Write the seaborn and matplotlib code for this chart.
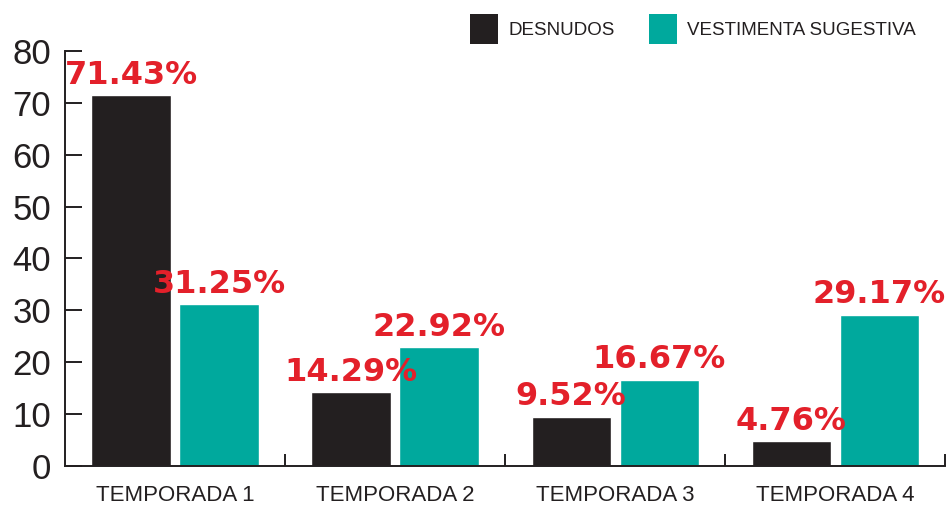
import pandas as pd
import matplotlib.pyplot as plt
import seaborn as sns
from matplotlib.ticker import FixedLocator
from matplotlib.patches import Patch

# Chart values
temporadas = ['TEMPORADA 1', 'TEMPORADA 2', 'TEMPORADA 3', 'TEMPORADA 4']
series = ['DESNUDOS', 'VESTIMENTA SUGESTIVA']
desnudos = [71.43, 14.29, 9.52, 4.76]
vestimenta = [31.25, 22.92, 16.67, 29.17]
y_ticks = [0, 10, 20, 30, 40, 50, 60, 70, 80]

df = pd.DataFrame({
    'Temporada': temporadas * 2,
    'Serie': [series[0]] * 4 + [series[1]] * 4,
    'Valor': desnudos + vestimenta,
})

colors = {'DESNUDOS': '#231f20', 'VESTIMENTA SUGESTIVA': '#00a99d'}
red = '#e3202a'
txt = '#231f20'

sns.set_style('white')
plt.rcParams['font.family'] = ['Liberation Sans', 'DejaVu Sans']

fig = plt.figure(figsize=(9.49, 5.08), dpi=100)
ax = fig.add_axes([0.0685, 0.0827, 0.9275, 0.817])

sns.barplot(data=df, x='Temporada', y='Valor', hue='Serie', order=temporadas,
            hue_order=series, palette=colors, width=0.8, gap=0.1,
            saturation=1, legend=False, ax=ax)

ax.set_xlim(-0.5, 3.5)
ax.set_ylim(0, 80)
ax.set_xlabel('')
ax.set_ylabel('')
ax.set_yticks(y_ticks)
ax.tick_params(axis='y', left=True, direction='in', length=12, width=1.4,
               color=txt, labelsize=25, labelcolor=txt, pad=10)
ax.tick_params(axis='x', which='major', bottom=False, length=0, labelsize=16,
               labelcolor=txt, pad=14)
ax.xaxis.set_minor_locator(FixedLocator([0.5, 1.5, 2.5, 3.5]))
ax.tick_params(axis='x', which='minor', bottom=True, direction='in', length=9,
               width=1.4, color=txt)

for s in ['top', 'right']:
    ax.spines[s].set_visible(False)
for s in ['left', 'bottom']:
    ax.spines[s].set_linewidth(1.4)
    ax.spines[s].set_color(txt)

# value labels
for container in ax.containers:
    for bar in container:
        h = bar.get_height()
        ax.annotate(f'{h:.2f}%', (bar.get_x() + bar.get_width() / 2, h),
                    xytext=(0, 3), textcoords='offset points',
                    ha='center', va='bottom', color=red, fontsize=23,
                    fontweight='bold', family=['DejaVu Sans'])

handles = [Patch(facecolor=colors[s], edgecolor='none', label=s) for s in series]
fig.legend(handles=handles, loc='upper right', bbox_to_anchor=(0.977, 0.995),
           borderaxespad=0.2, ncol=2, frameon=False, fontsize=13.5,
           handlelength=1.5, handleheight=2.1, handletextpad=0.55,
           columnspacing=1.8, labelcolor=txt)

fig.savefig('out.png', dpi=100)
